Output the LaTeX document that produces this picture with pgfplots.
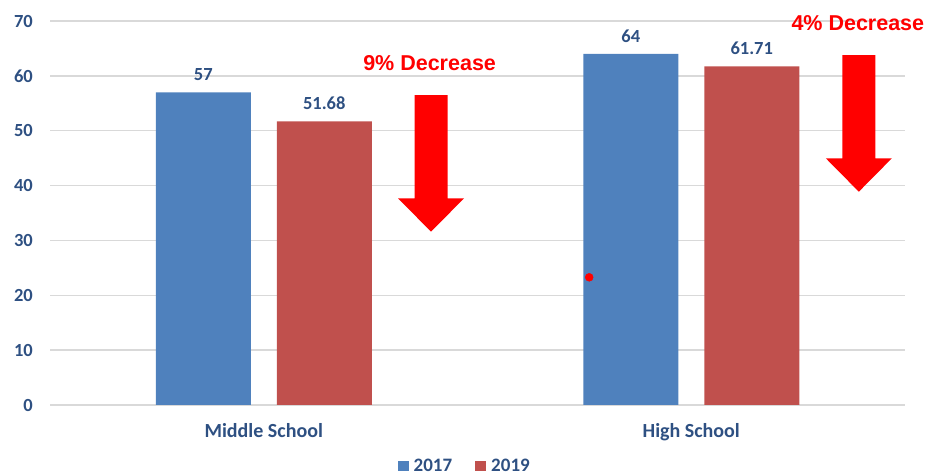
\documentclass[border=0pt]{standalone}
\usepackage{fontspec}
\setmainfont{Carlito}
\newfontfamily\arialbold{Liberation Sans}
\usepackage{pgfplots}
\pgfplotsset{compat=1.18}

\definecolor{bar2017}{HTML}{4F81BD}
\definecolor{bar2019}{HTML}{C0504D}
\definecolor{labelblue}{RGB}{46,80,130}
\definecolor{gridgray}{RGB}{217,217,217}
\definecolor{arrowred}{RGB}{255,0,0}

\newcommand{\chartfont}{\bfseries\fontsize{18.5}{20}\selectfont}

\begin{document}
\begin{tikzpicture}
\useasboundingbox (0,0) rectangle (927pt,474pt);
\begin{axis}[
  at={(50pt,69pt)}, anchor=south west,
  scale only axis, width=855pt, height=384pt,
  xmin=-0.5, xmax=1.5, ymin=0, ymax=70,
  xtick={0,1}, xticklabels={Middle School, High School},
  ytick={0,10,...,70},
  major tick length=0pt,
  axis line style={draw=none},
  ymajorgrids, major grid style={gridgray, line width=1.5pt},
  /pgf/number format/assume math mode=true,
  tick label style={font=\chartfont, text=labelblue},
  yticklabel style={anchor=east, inner sep=0pt, xshift=-17pt},
  xticklabel style={anchor=base, inner sep=0pt, yshift=-33pt, font=\bfseries\fontsize{20}{22}\selectfont},
  clip=false,
  legend columns=2,
  legend style={at={(0.4839,-0.160)}, anchor=center, draw=none, fill=none,
    font=\bfseries\fontsize{19}{20}\selectfont, text=labelblue,
    inner sep=0pt, nodes={inner sep=0pt},
    column sep=5pt,
    /tikz/every even column/.append style={column sep=23pt}},
  legend image code/.code={\fill[#1] (0pt,-5pt) rectangle (11pt,5pt);},
  every node near coord/.append style={font=\chartfont, text=labelblue, inner sep=0pt, yshift=11.5pt},
]
\addplot[ybar, bar width=95pt, bar shift=-60.5pt, fill=bar2017, draw=none,
  nodes near coords, every node near coord/.append style={xshift=-60.5pt}]
  coordinates {(0,57) (1,64)};
\addlegendentry{2017}
\addplot[ybar, bar width=95pt, bar shift=60.5pt, fill=bar2019, draw=none,
  nodes near coords, every node near coord/.append style={xshift=60.5pt}]
  coordinates {(0,51.68) (1,61.71)};
\addlegendentry{2019}
% small red dot on the High School 2017 bar
\addplot[only marks, mark=*, mark size=4pt, color=arrowred, forget plot]
  coordinates {(0.7613,23.28)};
% arrow tips and captions
\coordinate (tipA) at (axis cs:0.3913,31.59);
\coordinate (tipB) at (axis cs:1.392,38.88);
\node[text=arrowred, font=\arialbold\bfseries\fontsize{21.5}{24}\selectfont, inner sep=0pt]
  at (axis cs:0.388,62.3) {9\% Decrease};
\node[text=arrowred, font=\arialbold\bfseries\fontsize{21.5}{24}\selectfont, inner sep=0pt]
  at (axis cs:1.3897,69.6) {4\% Decrease};
\end{axis}
\foreach \t in {tipA,tipB}{
  \fill[arrowred] (\t) -- ++(-33pt,33.4pt) -- ++(16.5pt,0pt) -- ++(0pt,103.3pt)
    -- ++(33pt,0pt) -- ++(0pt,-103.3pt) -- ++(16.5pt,0pt) -- cycle;
}
\end{tikzpicture}
\end{document}
